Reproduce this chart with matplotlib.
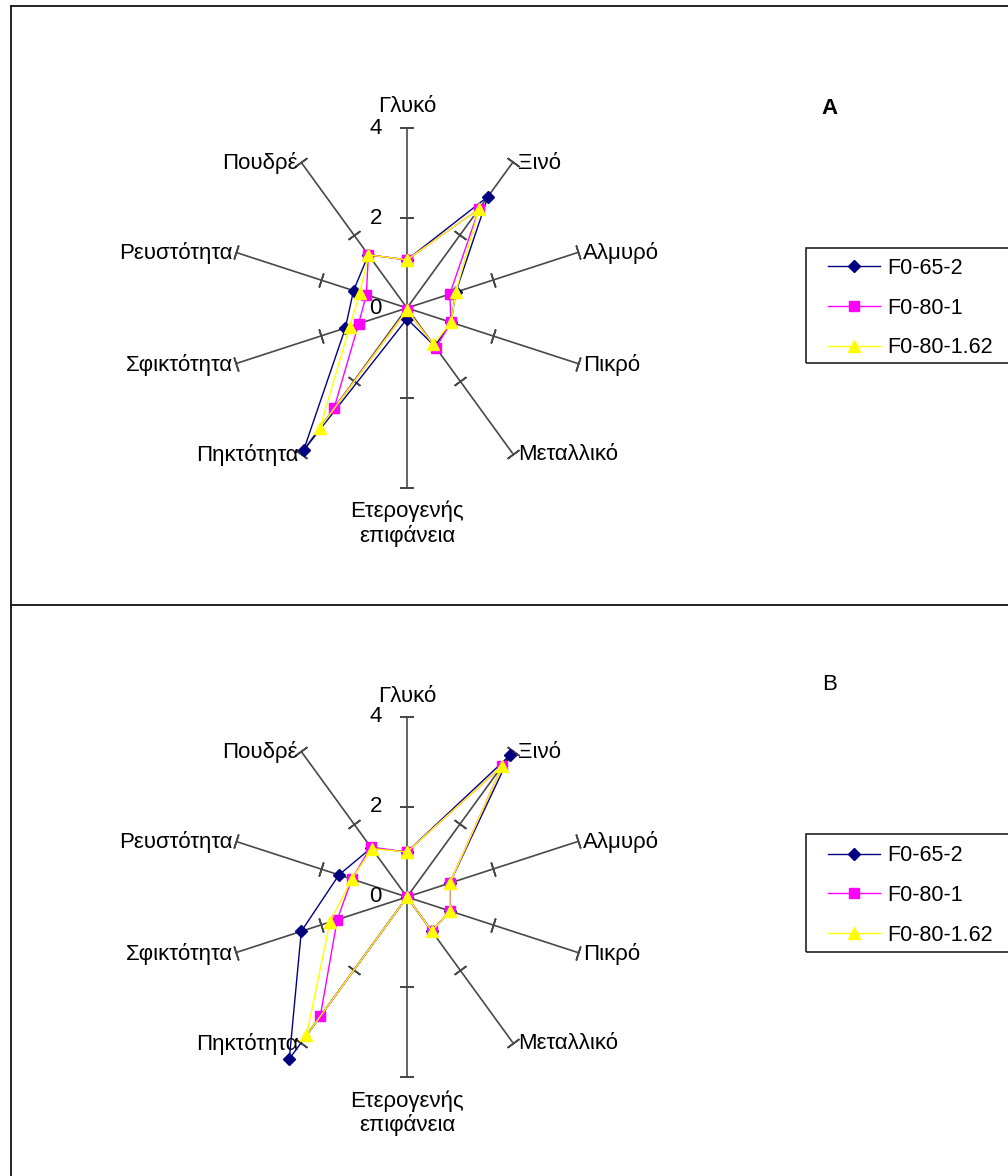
import numpy as np
import matplotlib
matplotlib.use("Agg")
import matplotlib.pyplot as plt
from matplotlib.lines import Line2D
from matplotlib.patches import Rectangle

plt.rcParams['font.family'] = ['Liberation Sans', 'DejaVu Sans']

# -------------------------
# datos
# -------------------------
categorias = ['Γλυκό', 'Ξινό', 'Αλμυρό', 'Πικρό', 'Μεταλλικό',
              'Ετερογενής\nεπιφάνεια', 'Πηκτότητα', 'Σφικτότητα',
              'Ρευστότητα', 'Πουδρέ']
series = ['F0-65-2', 'F0-80-1', 'F0-80-1.62']

# panel A
f0_65_2_a = [1.07, 3.06, 1.14, 1.03, 1.05, 0.24, 3.91, 1.44, 1.25, 1.46]
f0_80_1_a = [1.07, 2.72, 1.00, 1.03, 1.09, 0.05, 2.76, 1.13, 0.95, 1.46]
f0_80_162_a = [1.07, 2.72, 1.14, 1.03, 1.00, 0.05, 3.29, 1.34, 1.10, 1.46]

# panel B
f0_65_2_b = [1.00, 3.90, 1.00, 1.00, 0.94, 0.00, 4.45, 2.47, 1.59, 1.35]
f0_80_1_b = [1.00, 3.60, 1.00, 1.00, 0.94, 0.00, 3.28, 1.63, 1.29, 1.37]
f0_80_162_b = [1.00, 3.60, 1.00, 1.00, 0.94, 0.00, 3.80, 1.80, 1.29, 1.33]

escala = [0, 2, 4]

colores = ['#000080', '#FF00FF', '#FFFF00']
marcadores = ['D', 's', '^']
tam_marcador = [6.5, 7, 8]

W, H = 1008, 1176
fig = plt.figure(figsize=(W / 100, H / 100), dpi=100)

n = len(categorias)
angulos = np.arange(n) * 2 * np.pi / n
fs_cat = 16


def radar(cx, cy, datos, etiqueta, y_etiqueta, negrita):
    r_px = 180
    ax = fig.add_axes([(cx - r_px) / W, (H - cy - r_px) / H, 2 * r_px / W, 2 * r_px / H],
                      projection='polar')
    ax.set_theta_zero_location('N')
    ax.set_theta_direction(-1)
    ax.set_ylim(0, 4)
    ax.axis('off')

    # ejes radiales con marcas en 2 y 4
    for t in angulos:
        ax.plot([t, t], [0, 4], color='#484848', lw=1.2, zorder=1)
        rot = 90 - np.degrees(t)
        ax.plot([t, t], [2, 4], ls='none', marker=(2, 2, rot), ms=10.5,
                mec='#484848', mew=1.2, zorder=1, clip_on=False)

    # etiquetas de la escala
    for v in escala:
        ax.annotate(str(v), xy=(0, v), xytext=(-25, 0), textcoords='offset pixels',
                    ha='right', va='center', fontsize=16)

    # categorias
    for t, cat in zip(angulos, categorias):
        s = np.sin(t)
        if abs(s) < 1e-6:
            if np.cos(t) > 0:
                ax.annotate(cat, xy=(t, 4), xytext=(0, 21), textcoords='offset pixels',
                            ha='center', va='center', fontsize=fs_cat)
            else:
                ax.annotate(cat, xy=(t, 4), xytext=(0, -13), textcoords='offset pixels',
                            ha='center', va='top', fontsize=fs_cat, multialignment='center',
                            linespacing=1.15)
        elif s > 0:
            ax.annotate(cat, xy=(t, 4), xytext=(5, -1), textcoords='offset pixels',
                        ha='left', va='center', fontsize=fs_cat)
        else:
            ax.annotate(cat, xy=(t, 4), xytext=(-3, -1), textcoords='offset pixels',
                        ha='right', va='center', fontsize=fs_cat)

    handles = []
    for vals, c, m, ms, nombre in zip(datos, colores, marcadores, tam_marcador, series):
        th = np.append(angulos, angulos[0])
        rr = np.append(vals, vals[0])
        h, = ax.plot(th, rr, color=c, lw=1.0, marker=m, ms=ms, mfc=c, mec=c,
                     label=nombre, clip_on=False, zorder=3)
        handles.append(h)

    fig.text(830 / W, 1 - y_etiqueta / H, etiqueta, ha='center', va='center',
             fontsize=16, fontweight='bold' if negrita else 'normal')
    return handles


def leyenda(handles, y_top, y_bot):
    yc = (y_top + y_bot) / 2 + 2.5
    fig.legend(handles, series, loc='center left',
               bbox_to_anchor=(828 / W, 1 - yc / H), frameon=False,
               fontsize=15.5, handlelength=2.42, handletextpad=0.33,
               labelspacing=0.88, borderpad=0, borderaxespad=0)
    fig.patches.append(Rectangle((806 / W, 1 - y_bot / H), 0.3, (y_bot - y_top) / H,
                                 transform=fig.transFigure, fill=False,
                                 edgecolor='#222222', lw=1.2))


h_a = radar(407, 308, [f0_65_2_a, f0_80_1_a, f0_80_162_a], 'A', 108, True)
leyenda(h_a, 248, 363)

h_b = radar(407, 897, [f0_65_2_b, f0_80_1_b, f0_80_162_b], 'B', 684, False)
leyenda(h_b, 834, 952)

# marcos de los paneles
for xs, ys in [([11, 11], [6, H + 5]), ([11, W + 5], [6, 6]), ([11, W + 5], [605, 605])]:
    fig.add_artist(Line2D([x / W for x in xs], [1 - y / H for y in ys],
                          transform=fig.transFigure, color='#111111', lw=1.3))

plt.savefig('out.png', dpi=100)
